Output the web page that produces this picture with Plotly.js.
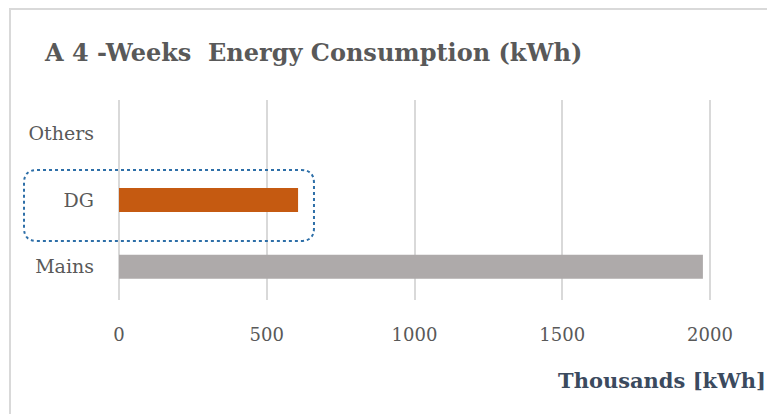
<!DOCTYPE html>
<html>
<head>
<meta charset="utf-8">
<script src="https://cdn.plot.ly/plotly-3.0.1.min.js"></script>
<style>
  html, body { margin: 0; padding: 0; background: #ffffff; overflow: hidden; }
  #frame { position: absolute; left: 9px; top: 8px; width: 800px; height: 460px;
           border-left: 2px solid #d9d9d9; border-top: 2px solid #d9d9d9; z-index: 0; }
  #chart { position: absolute; left: 0; top: 0; width: 767px; height: 414px; z-index: 1; }
</style>
</head>
<body>
<div id="frame"></div>
<div id="chart"></div>
<script>
// Four-week energy consumption by source, in thousands of kWh
const sources = ['Mains', 'DG', 'Others'];
const consumption = [1976, 606, 0];
const barColors = ['#aeaaaa', '#c55a11', '#a5a5a5'];
const xTicks = [0, 500, 1000, 1500, 2000];

const W = 767, H = 414;
const M = { l: 119, r: 0, t: 100, b: 114 };
const plotW = W - M.l - M.r, plotH = H - M.t - M.b;

// pixel -> paper helpers for the highlight box around DG
const px = x => (x - M.l) / plotW;
const py = y => (H - M.b - y) / plotH;

function roundedRect(x0, y0, x1, y1, r) {
  const X = v => px(v).toFixed(4), Y = v => py(v).toFixed(4);
  return 'M' + X(x0 + r) + ',' + Y(y0) +
    ' L' + X(x1 - r) + ',' + Y(y0) +
    ' Q' + X(x1) + ',' + Y(y0) + ' ' + X(x1) + ',' + Y(y0 + r) +
    ' L' + X(x1) + ',' + Y(y1 - r) +
    ' Q' + X(x1) + ',' + Y(y1) + ' ' + X(x1 - r) + ',' + Y(y1) +
    ' L' + X(x0 + r) + ',' + Y(y1) +
    ' Q' + X(x0) + ',' + Y(y1) + ' ' + X(x0) + ',' + Y(y1 - r) +
    ' L' + X(x0) + ',' + Y(y0 + r) +
    ' Q' + X(x0) + ',' + Y(y0) + ' ' + X(x0 + r) + ',' + Y(y0) + ' Z';
}

const serif = 'DejaVu Serif, Liberation Serif, serif';

const trace = {
  type: 'bar',
  orientation: 'h',
  y: sources,
  x: consumption,
  marker: { color: barColors },
  width: 0.36,
  hoverinfo: 'x+y'
};

const layout = {
  width: W, height: H,
  margin: M,
  paper_bgcolor: 'rgba(0,0,0,0)',
  plot_bgcolor: 'rgba(0,0,0,0)',
  showlegend: false,
  title: {
    text: '<b>A 4 -Weeks  Energy Consumption (kWh)</b>',
    x: 45 / W, xanchor: 'left', xref: 'container',
    y: 1 - 53 / H, yanchor: 'middle', yref: 'container',
    font: { family: serif, size: 24, color: '#595959' }
  },
  xaxis: {
    range: [0, (W - M.l) / (591 / 2000)],
    tickvals: xTicks,
    ticktext: xTicks.map(String),
    showgrid: true, gridcolor: '#d9d9d9', gridwidth: 2,
    zeroline: true, zerolinecolor: '#d9d9d9', zerolinewidth: 2,
    showline: false, ticks: '',
    ticklabelstandoff: 22,
    tickfont: { family: serif, size: 18, color: '#595959' },
    fixedrange: true
  },
  yaxis: {
    categoryorder: 'array', categoryarray: sources,
    showgrid: false, zeroline: false, showline: false, ticks: '',
    ticklabelstandoff: 24,
    tickfont: { family: serif, size: 19, color: '#595959' },
    fixedrange: true
  },
  annotations: [{
    text: '<b>Thousands [kWh]</b>',
    xref: 'paper', yref: 'paper',
    x: px(556), y: py(380), xanchor: 'left', yanchor: 'middle',
    showarrow: false,
    font: { family: serif, size: 21, color: '#3b4a5e' }
  }],
  shapes: [{
    type: 'path', xref: 'paper', yref: 'paper',
    path: roundedRect(24, 170, 314, 241, 13),
    line: { color: '#2e6fa8', width: 2, dash: 'dot' },
    fillcolor: 'rgba(0,0,0,0)'
  }]
};

Plotly.newPlot('chart', [trace], layout, { displayModeBar: false, staticPlot: true });
</script>
</body>
</html>
